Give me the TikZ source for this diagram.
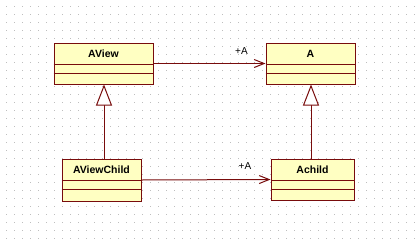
\documentclass[tikz,border=0pt]{standalone}
\usepackage{fontspec}
\setmainfont{Liberation Sans}
\usetikzlibrary{arrows.meta,calc}
\definecolor{umlline}{RGB}{120,12,12}
\definecolor{umlfill}{RGB}{255,255,194}
\definecolor{griddot}{RGB}{190,190,190}
\tikzset{
  cls/.style={draw=umlline, fill=umlfill, line width=1pt, rectangle, inner sep=0pt},
  clsname/.style={font=\fontsize{10.5}{12}\selectfont\bfseries, inner sep=0pt, text=black},
  divider/.style={draw=umlline, line width=1pt},
  assoc/.style={draw=umlline, line width=1pt, -{Straight Barb[length=10pt,width=8pt,line width=1pt]}},
  generalize/.style={draw=umlline, line width=1pt, -{Triangle[open,length=21pt,width=16pt,line width=1pt,fill=white]}},
  rolelabel/.style={font=\fontsize{10}{12}\selectfont, inner sep=0pt, text=black}
}
\begin{document}
\begin{tikzpicture}[x=1pt,y=-1pt]
\useasboundingbox (0,0) rectangle (420,244);
\fill[white] (0,0) rectangle (420,244);
\foreach \i in {0,...,51} {
  \foreach \j in {0,...,29} {
    \fill[griddot] ({6+8*\i},{6+8*\j}) rectangle ++(1,1);
  }
}
% classes
\node[cls, minimum width=99pt, minimum height=41pt] (aview) at (103.5,63.5) {};
\node[cls, minimum width=89pt, minimum height=41pt] (a) at (310.5,63.5) {};
\node[cls, minimum width=79pt, minimum height=42pt] (avc) at (101.5,180) {};
\node[cls, minimum width=83pt, minimum height=41pt] (ach) at (312.5,179.5) {};
% names
\node[clsname] (aviewname) at ($(aview.north)+(0,11)$) {AView};
\node[clsname] (aname) at ($(a.north)+(0,11)$) {A};
\node[clsname] (avcname) at ($(avc.north)+(0,11)$) {AViewChild};
\node[clsname] (achname) at ($(ach.north)+(0,11)$) {Achild};
% compartments
\foreach \c in {aview,a,avc,ach} {
  \draw[divider] ($(\c.north west)+(0,22)$) -- ($(\c.north east)+(0,22)$);
  \draw[divider] ($(\c.north west)+(0,31)$) -- ($(\c.north east)+(0,31)$);
}
% associations
\draw[assoc] (aview.east) -- (a.west);
\draw[assoc] (avc.east) -- (ach.west);
\node[rolelabel] (l1) at (241.5,51) {+A};
\node[rolelabel] (l2) at (245,166) {+A};
% generalizations
\coordinate (g1) at (104,0);
\coordinate (g2) at (311,0);
\draw[generalize] (avc.north -| g1) -- (aview.south -| g1);
\draw[generalize] (ach.north -| g2) -- (a.south -| g2);
\end{tikzpicture}
\end{document}
